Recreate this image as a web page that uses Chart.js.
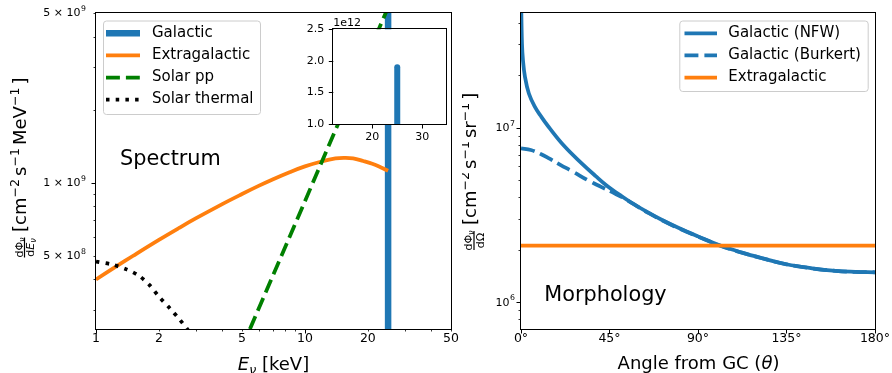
<!DOCTYPE html>
<html>
<head>
<meta charset="utf-8">
<script src="https://cdn.jsdelivr.net/npm/chart.js@4.4.1/dist/chart.umd.min.js"></script>
<style>
  html, body { margin: 0; padding: 0; background: #fff; }
  #wrap { position: relative; width: 892px; height: 373px; overflow: hidden; }
  .box { position: absolute; }
</style>
</head>
<body>
<div id="wrap">
  <div class="box" style="left:0;top:0;width:462px;height:373px"><canvas id="spec"></canvas></div>
  <div class="box" style="left:462px;top:0;width:430px;height:373px"><canvas id="morph"></canvas></div>
  <div class="box" style="left:300px;top:10px;width:155px;height:130px"><canvas id="inset"></canvas></div>
</div>
<script>
// ===== Spectrum panel (E in keV, flux in cm^-2 s^-1 MeV^-1) =====
const galE = [25, 25];
const galFlux = [1, 1.9e12];

const extraE = [1, 1.25, 1.5, 2, 2.5, 3, 4, 5, 6, 7, 8.5, 10, 12, 14, 15.5, 17, 19, 21, 23, 25];
const extraFlux = [4.0e8, 4.524e8, 4.996e8, 5.821e8, 6.52e8, 7.131e8, 8.152e8, 8.989e8, 9.707e8, 1.032e9,
  1.108e9, 1.168e9, 1.224e9, 1.26e9, 1.266e9, 1.26e9, 1.229e9, 1.197e9, 1.159e9, 1.12e9];

const ppE = [5, 10, 20, 30];
const ppFlux = [2.1e8, 8.4e8, 3.37e9, 7.6e9];

const thermE = [1, 1.2, 1.4, 1.6, 1.8, 2.0, 2.25, 2.5, 2.75, 3.0];
const thermFlux = [4.74e8, 4.6e8, 4.4e8, 4.15e8, 3.8e8, 3.4e8, 3.05e8, 2.75e8, 2.48e8, 2.2e8];

const specXTicks = [1, 2, 3, 4, 5, 6, 7, 8, 9, 10, 20, 30, 40, 50];
const specXMajor = [1, 10];
const specXLabelVals = [1, 2, 5, 10, 20, 50];
const specXLabelText = ["1", "2", "5", "10", "20", "50"];
const specYTicks = [3e8, 4e8, 5e8, 6e8, 7e8, 8e8, 9e8, 1e9, 2e9, 3e9, 4e9, 5e9];
const specYMajor = [1e9];
const specYLabelVals = [5e8, 1e9, 5e9];
const specYLabelBase = ["5 × 10", "1 × 10", "5 × 10"];
const specYLabelExp = ["8", "9", "9"];

// inset (linear, zoom on the line peak)
const insetXTicks = [20, 30];
const insetXLabelText = ["20", "30"];
const insetYTicks = [1.0e12, 1.5e12, 2.0e12, 2.5e12];
const insetYLabelText = ["1.0", "1.5", "2.0", "2.5"];

// ===== Morphology panel (angle in degrees) =====
const nfwAngle = [0, 0.5, 1, 2, 4, 7, 10, 14, 22, 31, 38, 44, 50, 56, 65, 72, 80, 90, 101, 112, 123, 135,
  148, 160, 170, 180];
const nfwFlux = [6e7, 3.03e7, 2.44e7, 1.96e7, 1.57e7, 1.32e7, 1.17e7, 1.013e7, 7.85e6, 6.23e6, 5.28e6,
  4.62e6, 4.14e6, 3.73e6, 3.25e6, 2.95e6, 2.67e6, 2.385e6, 2.12e6, 1.931e6, 1.784e6, 1.651e6, 1.565e6,
  1.513e6, 1.495e6, 1.486e6];

const burAngle = [0, 5, 10, 14, 20, 27, 34, 41, 48, 54, 60, 65, 72, 80, 90, 101, 112, 123, 135, 148, 160, 170, 180];
const burFlux = [7.62e6, 7.45e6, 7.07e6, 6.7e6, 6.13e6, 5.55e6, 5.0e6, 4.57e6, 4.18e6, 3.85e6, 3.5e6,
  3.24e6, 2.94e6, 2.66e6, 2.38e6, 2.115e6, 1.928e6, 1.782e6, 1.65e6, 1.564e6, 1.512e6, 1.494e6, 1.486e6];

const egAngle = [0, 180];
const egFlux = [2.11e6, 2.11e6];

const morphXTicks = [0, 45, 90, 135, 180];
const morphXLabelText = ["0°", "45°", "90°", "135°", "180°"];
const morphYTicks = [8e5, 9e5, 1e6, 2e6, 3e6, 4e6, 5e6, 6e6, 7e6, 8e6, 9e6, 1e7, 2e7, 3e7, 4e7];
const morphYMajor = [1e6, 1e7];
const morphYLabelVals = [1e6, 1e7];
const morphYLabelBase = ["10", "10"];
const morphYLabelExp = ["6", "7"];

const BLUE = "#1f77b4";
const ORANGE = "#ff7f0e";
const GREEN = "#008000";
const FONT = '"DejaVu Sans", sans-serif';
const DASH = [13.9, 6];
const DOT = [3.5, 6.2];

Chart.defaults.font.family = FONT;
Chart.defaults.color = "#000";

const zip = (xs, ys) => xs.map((x, i) => ({ x, y: ys[i] }));
const same = (a, b) => Math.abs(a - b) <= Math.abs(b) * 1e-6;
function labelFor(v, vals, texts) {
	const i = vals.findIndex((w) => same(v, w));
	return i < 0 ? "" : texts[i];
}
function setTicks(list, major) {
	return (s) => {
		s.ticks = list.map((v) => ({ value: v, major: major ? major.some((m) => same(v, m)) : true }));
	};
}

// draw a run of text pieces: [text, size, dy, italic, extraSpaceAfter]
function runsWidth(ctx, runs) {
	let w = 0;
	for (const r of runs) {
		ctx.font = (r[3] ? "italic " : "") + r[1] + "px " + FONT;
		w += ctx.measureText(r[0]).width + (r[4] || 0);
	}
	return w;
}
function drawRuns(ctx, runs, x, y) {
	let cx = x;
	for (const r of runs) {
		ctx.font = (r[3] ? "italic " : "") + r[1] + "px " + FONT;
		ctx.fillText(r[0], cx, y + (r[2] || 0));
		cx += ctx.measureText(r[0]).width + (r[4] || 0);
	}
	return cx - x;
}

// log-axis labels like 5 x 10^9, right aligned at xRight
function drawPowLabels(ctx, scale, vals, bases, exps, xRight) {
	ctx.save();
	ctx.fillStyle = "#000";
	ctx.textBaseline = "middle";
	vals.forEach((v, i) => {
		const y = scale.getPixelForValue(v);
		const runs = [[bases[i], 11, 0.5, false, 0.5], [exps[i], 7.8, -4, false]];
		drawRuns(ctx, runs, xRight - runsWidth(ctx, runs), y);
	});
	ctx.restore();
}

// frame on all four sides + outward tick marks (major longer than minor)
function drawFrame(chart) {
	const ctx = chart.ctx;
	const a = chart.chartArea;
	ctx.save();
	ctx.strokeStyle = "#000";
	const xs = chart.scales.x;
	const ys = chart.scales.y;
	xs.ticks.forEach((t) => {
		const p = Math.round(xs.getPixelForValue(t.value)) + 0.5;
		ctx.lineWidth = t.major ? 1 : 0.8;
		ctx.beginPath();
		ctx.moveTo(p, a.bottom);
		ctx.lineTo(p, a.bottom + (t.major ? 4.5 : 2.5));
		ctx.stroke();
	});
	ys.ticks.forEach((t) => {
		const p = Math.round(ys.getPixelForValue(t.value)) + 0.5;
		ctx.lineWidth = t.major ? 1 : 0.8;
		ctx.beginPath();
		ctx.moveTo(a.left, p);
		ctx.lineTo(a.left - (t.major ? 4.5 : 2.5), p);
		ctx.stroke();
	});
	ctx.lineWidth = 1;
	ctx.strokeRect(Math.round(a.left) - 0.5, Math.round(a.top) - 0.5,
		Math.round(a.right - a.left) + 1, Math.round(a.bottom - a.top) + 1);
	ctx.restore();
}

// legend box in the matplotlib way
function drawLegend(ctx, box, rows) {
	ctx.save();
	ctx.fillStyle = "rgba(255,255,255,0.8)";
	ctx.strokeStyle = "#cccccc";
	ctx.lineWidth = 1;
	ctx.beginPath();
	ctx.roundRect(box.x + 0.5, box.y + 0.5, box.w, box.h, 3);
	ctx.fill();
	ctx.stroke();
	rows.forEach((r, i) => {
		const y = box.rowY[i];
		ctx.strokeStyle = r.color;
		ctx.lineWidth = r.width;
		ctx.setLineDash(r.dash || []);
		ctx.beginPath();
		ctx.moveTo(box.lineX0, y);
		ctx.lineTo(box.lineX1, y);
		ctx.stroke();
		ctx.setLineDash([]);
		ctx.fillStyle = "#000";
		ctx.font = "15px " + FONT;
		ctx.textBaseline = "middle";
		ctx.fillText(r.label, box.textX, y);
	});
	ctx.restore();
}

const baseScale = {
	grid: { display: false, drawTicks: false },
	border: { display: false },
};

// ---------------- Spectrum ----------------
const specDeco = {
	id: "specDeco",
	afterDatasetsDraw(chart) {
		const ctx = chart.ctx;
		drawFrame(chart);
		drawPowLabels(ctx, chart.scales.y, specYLabelVals, specYLabelBase, specYLabelExp, 86);
		ctx.save();
		ctx.fillStyle = "#000";
		ctx.textBaseline = "alphabetic";

		// x title: E_nu [keV]
		const xr = [["E", 18, 0, true], ["ν", 12.6, 4, true, 0], [" [keV]", 18, 0, false]];
		drawRuns(ctx, xr, 273.5 - runsWidth(ctx, xr) / 2, 370);

		// annotation
		ctx.font = "20.8px " + FONT;
		ctx.fillText("Spectrum", 120, 164.5);

		// y title, rotated
		ctx.rotate(-Math.PI / 2);
		const num = [["dΦ", 11, 0, false], ["ν", 8, 2, true]];
		const den = [["d", 11, 0, false], ["E", 11, 0, true], ["ν", 8, 2, true]];
		const cy = 247.5, bar = 24.5;
		drawRuns(ctx, num, -cy - runsWidth(ctx, num) / 2, bar - 2);
		drawRuns(ctx, den, -cy - runsWidth(ctx, den) / 2, bar + 9.5);
		ctx.fillRect(-cy - 10, bar - 0.6, 20, 1.2);
		const yr = [["[cm", 18, 0], ["−2", 12.6, -7, false, 3], ["s", 18, 0], ["−1", 12.6, -7, false, 3],
			["MeV", 18, 0], ["−1", 12.6, -7, false, 3], ["]", 18, 0]];
		drawRuns(ctx, yr, -232, 26);
		ctx.restore();

		drawLegend(ctx, { x: 103, y: 20.5, w: 157, h: 93.5, lineX0: 106, lineX1: 140, textX: 152,
			rowY: [33.3, 55.3, 77.5, 99.5] }, [
			{ label: "Galactic", color: BLUE, width: 6.5 },
			{ label: "Extragalactic", color: ORANGE, width: 3.75 },
			{ label: "Solar pp", color: GREEN, width: 3.75, dash: DASH },
			{ label: "Solar thermal", color: "#000", width: 3.75, dash: DOT },
		]);
	},
};

new Chart(document.getElementById("spec"), {
	type: "line",
	data: {
		datasets: [
			{ label: "Galactic", data: zip(galE, galFlux), borderColor: BLUE, borderWidth: 6.5, order: 4, clip: 0 },
			{ label: "Extragalactic", data: zip(extraE, extraFlux), borderColor: ORANGE, borderWidth: 3.75,
				tension: 0.4, order: 3, clip: 0 },
			{ label: "Solar pp", data: zip(ppE, ppFlux), borderColor: GREEN, borderWidth: 3.75,
				borderDash: DASH, order: 2, clip: 0 },
			{ label: "Solar thermal", data: zip(thermE, thermFlux), borderColor: "#000", borderWidth: 3.75,
				borderDash: DOT, tension: 0.3, order: 1, clip: 0 },
		],
	},
	options: {
		responsive: true,
		maintainAspectRatio: false,
		animation: false,
		layout: { padding: { left: 0, right: 11, top: 13, bottom: 0 } },
		elements: { point: { radius: 0 }, line: { fill: false, borderJoinStyle: "round" } },
		plugins: { legend: { display: false }, tooltip: { enabled: false } },
		scales: {
			x: {
				...baseScale,
				type: "logarithmic",
				min: 1,
				max: 50,
				afterBuildTicks: setTicks(specXTicks, specXMajor),
				afterFit: (s) => { s.height = 44; },
				ticks: { autoSkip: false, maxRotation: 0, padding: 2, font: { size: 12.5 },
					callback: (v) => labelFor(v, specXLabelVals, specXLabelText) },
			},
			y: {
				...baseScale,
				type: "logarithmic",
				min: 2.5e8,
				max: 5e9,
				afterBuildTicks: setTicks(specYTicks, specYMajor),
				afterFit: (s) => { s.width = 96; },
				ticks: { display: false },
			},
		},
	},
	plugins: [specDeco],
});

// ---------------- Inset ----------------
const insetDeco = {
	id: "insetDeco",
	beforeDatasetsDraw(chart) {
		const a = chart.chartArea;
		chart.ctx.save();
		chart.ctx.fillStyle = "#fff";
		chart.ctx.fillRect(a.left, a.top, a.right - a.left, a.bottom - a.top);
		chart.ctx.restore();
	},
	afterDatasetsDraw(chart) {
		drawFrame(chart);
		const ctx = chart.ctx;
		ctx.save();
		ctx.fillStyle = "#000";
		ctx.font = "11px " + FONT;
		ctx.fillText("1e12", chart.chartArea.left, 16);
		ctx.restore();
	},
};

new Chart(document.getElementById("inset"), {
	type: "line",
	data: {
		datasets: [
			{ label: "Galactic", data: zip(galE, galFlux), borderColor: BLUE, borderWidth: 6,
				borderCapStyle: "round", clip: 0 },
		],
	},
	options: {
		responsive: true,
		maintainAspectRatio: false,
		animation: false,
		layout: { padding: { left: 0, right: 8.3, top: 19.3, bottom: 0 } },
		elements: { point: { radius: 0 } },
		plugins: { legend: { display: false }, tooltip: { enabled: false } },
		scales: {
			x: {
				...baseScale,
				type: "linear",
				min: 12.2,
				max: 34.9,
				afterBuildTicks: setTicks(insetXTicks),
				afterFit: (s) => { s.height = 16; },
				ticks: { autoSkip: false, maxRotation: 0, padding: 6.5, font: { size: 11 },
					callback: (v) => labelFor(v, insetXTicks, insetXLabelText) },
			},
			y: {
				...baseScale,
				type: "linear",
				min: 1.0e12,
				max: 2.5e12,
				afterBuildTicks: setTicks(insetYTicks),
				afterFit: (s) => { s.width = 33.3; },
				ticks: { autoSkip: false, padding: 9, font: { size: 11 },
					callback: (v) => labelFor(v, insetYTicks, insetYLabelText) },
			},
		},
	},
	plugins: [insetDeco],
});

// ---------------- Morphology ----------------
const morphDeco = {
	id: "morphDeco",
	afterDatasetsDraw(chart) {
		const ctx = chart.ctx;
		drawFrame(chart);
		drawPowLabels(ctx, chart.scales.y, morphYLabelVals, morphYLabelBase, morphYLabelExp, 53);
		ctx.save();
		ctx.fillStyle = "#000";
		ctx.textBaseline = "alphabetic";

		const xr = [["Angle from GC (", 18, 0, false], ["θ", 18, 0, true], [")", 18, 0, false]];
		drawRuns(ctx, xr, 236.5 - runsWidth(ctx, xr) / 2, 369);

		ctx.font = "20.8px " + FONT;
		ctx.fillText("Morphology", 82.3, 301.2);

		ctx.rotate(-Math.PI / 2);
		const num = [["dΦ", 11, 0, false], ["ν", 8, 2, true]];
		const den = [["dΩ", 11, 0, false]];
		const cy = 240.5, bar = 12;
		drawRuns(ctx, num, -cy - runsWidth(ctx, num) / 2, bar - 2);
		drawRuns(ctx, den, -cy - runsWidth(ctx, den) / 2, bar + 10);
		ctx.fillRect(-cy - 9.5, bar - 0.6, 19, 1.2);
		const yr = [["[cm", 18, 0], ["−2", 12.6, -7, false, 3], ["s", 18, 0], ["−1", 12.6, -7, false, 3],
			["sr", 18, 0], ["−1", 12.6, -7, false, 3], ["]", 18, 0]];
		drawRuns(ctx, yr, -225, 13.5);
		ctx.restore();

		drawLegend(ctx, { x: 217.3, y: 20.5, w: 188.4, h: 70.5, lineX0: 222.5, lineX1: 255, textX: 266.3,
			rowY: [33.3, 55.3, 77.5] }, [
			{ label: "Galactic (NFW)", color: BLUE, width: 3.75 },
			{ label: "Galactic (Burkert)", color: BLUE, width: 3.75, dash: DASH },
			{ label: "Extragalactic", color: ORANGE, width: 3.75 },
		]);
	},
};

new Chart(document.getElementById("morph"), {
	type: "line",
	data: {
		datasets: [
			{ label: "Galactic (NFW)", data: zip(nfwAngle, nfwFlux), borderColor: BLUE, borderWidth: 3.75,
				tension: 0.4, order: 3, clip: 0 },
			{ label: "Galactic (Burkert)", data: zip(burAngle, burFlux), borderColor: BLUE, borderWidth: 3.75,
				borderDash: DASH, tension: 0.4, order: 2, clip: 0 },
			{ label: "Extragalactic", data: zip(egAngle, egFlux), borderColor: ORANGE, borderWidth: 3.75,
				order: 1, clip: 0 },
		],
	},
	options: {
		responsive: true,
		maintainAspectRatio: false,
		animation: false,
		layout: { padding: { left: 0, right: 16, top: 13, bottom: 0 } },
		elements: { point: { radius: 0 }, line: { fill: false, borderJoinStyle: "round" } },
		plugins: { legend: { display: false }, tooltip: { enabled: false } },
		scales: {
			x: {
				...baseScale,
				type: "linear",
				min: 0,
				max: 180,
				afterBuildTicks: setTicks(morphXTicks),
				afterFit: (s) => { s.height = 44; },
				ticks: { autoSkip: false, maxRotation: 0, padding: 2, font: { size: 12.5 },
					callback: (v) => labelFor(v, morphXTicks, morphXLabelText) },
			},
			y: {
				...baseScale,
				type: "logarithmic",
				min: 7.03e5,
				max: 4.54e7,
				afterBuildTicks: setTicks(morphYTicks, morphYMajor),
				afterFit: (s) => { s.width = 59; },
				ticks: { display: false },
			},
		},
	},
	plugins: [morphDeco],
});
</script>
</body>
</html>
